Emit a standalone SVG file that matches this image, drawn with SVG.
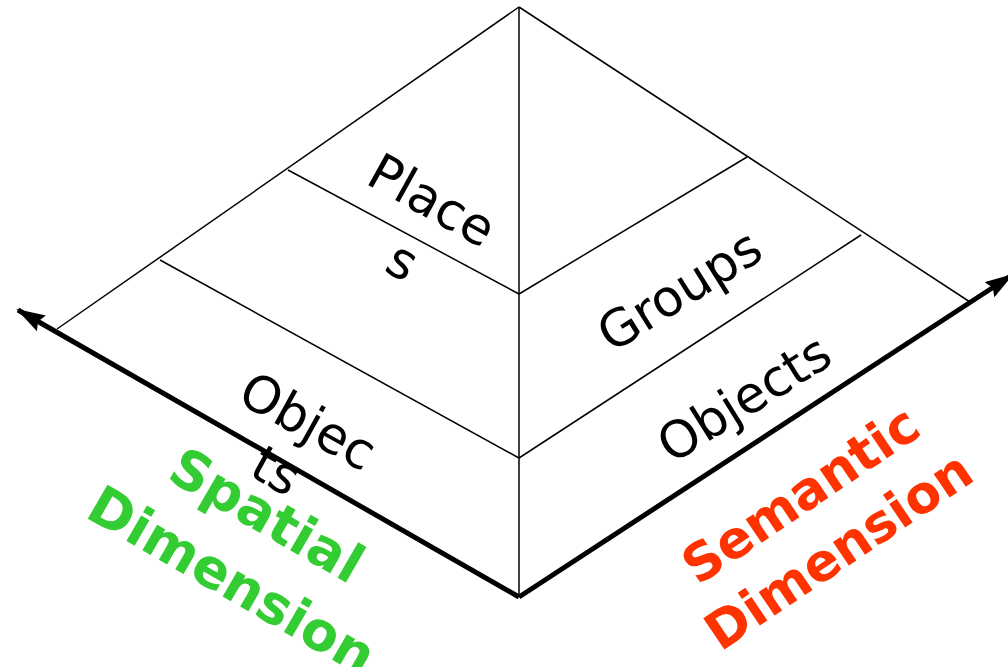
<svg xmlns="http://www.w3.org/2000/svg" width="1008" height="667" viewBox="0 0 1008 667">
<style>
.thin{stroke:#000;stroke-width:1.5;fill:none}
.axis{stroke:#000;stroke-width:5;fill:none}
.lbl{font-family:"DejaVu Sans",sans-serif;font-size:51px;fill:#000;text-anchor:middle}
.dim{font-family:"DejaVu Sans",sans-serif;font-size:54px;font-weight:bold;text-anchor:middle}
.dimr{font-family:"DejaVu Sans",sans-serif;font-size:52px;font-weight:bold;text-anchor:middle}
</style>
<defs>
<marker id="ah" viewBox="0 0 29 18" refX="27" refY="9" markerWidth="29" markerHeight="18" orient="auto" markerUnits="userSpaceOnUse">
<path d="M0,0 L29,9 L0,18 L4,9 z" fill="#000"/>
</marker>
</defs>
<rect width="1008" height="667" fill="#fff"/>
<g id="connectors">
<line class="thin" x1="519" y1="7" x2="57" y2="329"/>
<line class="thin" x1="519" y1="7" x2="970" y2="302"/>
<line class="thin" x1="519" y1="7" x2="519" y2="597"/>
<line class="thin" x1="288" y1="170" x2="519" y2="294"/>
<line class="thin" x1="160" y1="260" x2="519" y2="458"/>
<line class="thin" x1="519" y1="294" x2="747" y2="157"/>
<line class="thin" x1="519" y1="458" x2="861" y2="235"/>
<line class="axis" x1="519" y1="597" x2="18" y2="310" marker-end="url(#ah)"/>
<line class="axis" x1="519" y1="597" x2="1012" y2="275" marker-end="url(#ah)"/>
</g>
<g id="places">
<text class="lbl" transform="translate(432,200) rotate(29)" y="18">Place</text>
<text class="lbl" transform="translate(400,266) rotate(29)" y="12">s</text>
</g>
<g id="objects-spatial">
<text class="lbl" transform="translate(308,421) rotate(29)" y="18">Objec</text>
<text class="lbl" transform="translate(275,473) rotate(29)" y="15">ts</text>
</g>
<g id="groups">
<text class="lbl" transform="translate(683,296) rotate(-32)" y="11">Groups</text>
</g>
<g id="objects-semantic">
<text class="lbl" transform="translate(745,400) rotate(-32)" y="16">Objects</text>
</g>
<g id="spatial-dimension" fill="#33cc33">
<text class="dim" transform="translate(267,515) rotate(30)" y="19">Spatial</text>
<text class="dim" transform="translate(232,580) rotate(30)" y="19">Dimension</text>
</g>
<g id="semantic-dimension" fill="#ff3300">
<text class="dimr" transform="translate(800,494) rotate(-34)" y="19">Semantic</text>
<text class="dimr" transform="translate(838,550) rotate(-34)" y="19">Dimension</text>
</g>
</svg>
